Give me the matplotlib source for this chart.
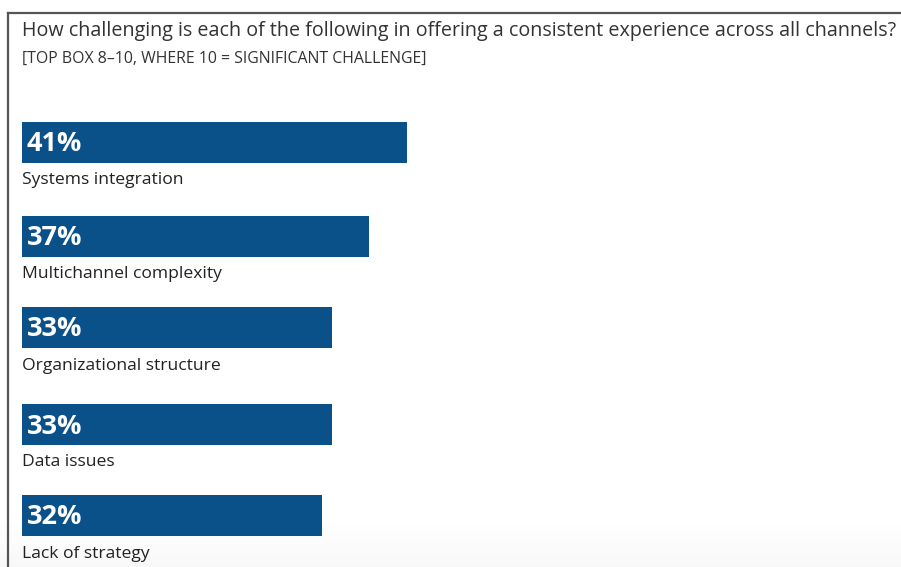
import numpy as np
import matplotlib.pyplot as plt

# survey results, top box 8-10
categories = ["Systems integration", "Multichannel complexity",
              "Organizational structure", "Data issues", "Lack of strategy"]
values = [41, 37, 33, 33, 32]

title = "How challenging is each of the following in offering a consistent experience across all channels?"
subtitle = "[TOP BOX 8\u201310, WHERE 10 = SIGNIFICANT CHALLENGE]"

W, H = 901, 567
bar_color = "#0b5189"
px_per_pct = 9.39
x0 = 22

fig = plt.figure(figsize=(W / 100, H / 100), dpi=100)
ax = fig.add_axes([0, 0, 1, 1])
ax.set_xlim(-x0 / px_per_pct, (W - x0) / px_per_pct)
ax.set_ylim(H, 0)
ax.axis("off")

# soft grey fade at the bottom edge
grad = np.linspace(0, 1, 50).reshape(-1, 1)
ax.imshow(grad, cmap="Greys", vmin=0, vmax=18, aspect="auto",
          extent=(-x0 / px_per_pct, (W - x0) / px_per_pct, H, 522), zorder=0)

# frame lines top and left
to_x = lambda p: (p - x0) / px_per_pct
ax.plot([to_x(8), to_x(W + 5)], [13, 13], color="#555555", lw=1.6, zorder=1)
ax.plot([to_x(8), to_x(8)], [13, H + 5], color="#555555", lw=1.6, zorder=1)

ax.text(0, 31, title, fontsize=14.2, family="Open Sans", color="#333333",
        va="center", ha="left")
ax.text(0, 59, subtitle, fontsize=11.4, family="Open Sans", color="#333333",
        va="center", ha="left")

ys = [142, 236, 327.5, 424.5, 515.5]
ax.barh(ys, values, height=41, left=0, color=bar_color, zorder=2)

for y, v, cat in zip(ys, values, categories):
    ax.text(0.5, y + 2, f"{v}%", fontsize=19.5, fontweight="bold",
            family="Open Sans", color="white", va="center", ha="left", zorder=3)
    ax.text(0, y + 38, cat, fontsize=12.6, family="Open Sans",
            color="#222222", va="center", ha="left", zorder=3)

fig.savefig("out.png", dpi=100)
